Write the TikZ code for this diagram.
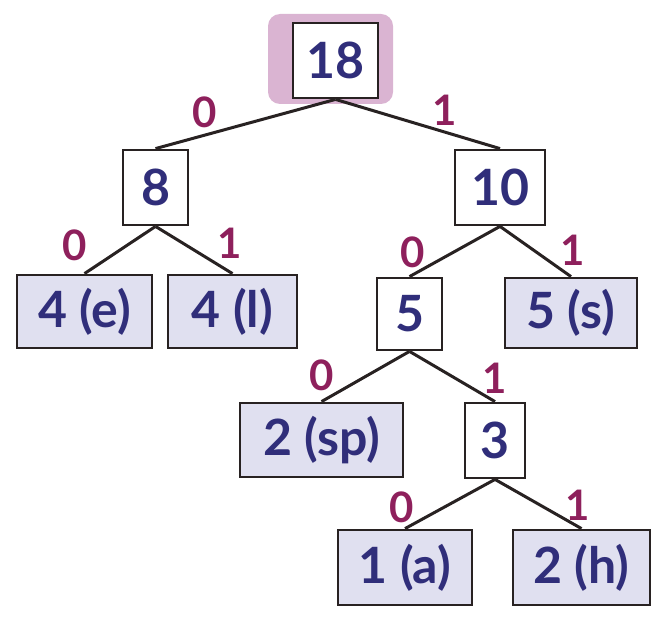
\documentclass[tikz,border=0pt]{standalone}
\usepackage{fontspec}
\setmainfont{Lato}
\usepackage{tikz}
\definecolor{ink}{RGB}{48,46,122}
\definecolor{bitcol}{RGB}{142,32,92}
\definecolor{leaffill}{RGB}{224,224,240}
\definecolor{rootglow}{RGB}{218,180,210}
\definecolor{branchcol}{RGB}{40,34,34}
\newcommand{\bitlabel}[4]{\node[bit] (#1) at (#3,#4) {#2};}
\tikzset{
  inner/.style={draw=branchcol, line width=1.4pt, fill=white, text=ink, font=\fontsize{25}{30}\selectfont\bfseries, inner sep=0pt},
  leaf/.style={inner, fill=leaffill},
  bit/.style={text=bitcol, font=\fontsize{21}{25}\selectfont\bfseries, inner sep=0pt},
  branch/.style={draw=branchcol, line width=1.5pt}
}

\begin{document}
\begin{tikzpicture}[x=0.5pt,y=-0.5pt]
\useasboundingbox (0,0) rectangle (672,620);
\fill[rootglow, rounded corners=6pt] (268,14) rectangle (393,104);
% inner nodes
\node[inner, minimum width=42.5pt, minimum height=37.5pt] (n18) at (335.5,60.5) {18};
\node[inner, minimum width=32.5pt, minimum height=37.5pt] (n8) at (155.5,187.5) {8};
\node[inner, minimum width=45pt, minimum height=37.5pt] (n10) at (500,187.5) {10};
\node[inner, minimum width=32.5pt, minimum height=36pt] (n5) at (409.5,314) {5};
\node[inner, minimum width=30pt, minimum height=37.5pt] (n3) at (495,440.5) {3};
% leaves
\node[leaf, minimum width=67.5pt, minimum height=36.5pt] (e) at (84.5,311.5) {4 (e)};
\node[leaf, minimum width=64.5pt, minimum height=36.5pt] (l) at (232.5,311.5) {4 (l)};
\node[leaf, minimum width=66pt, minimum height=35pt] (s) at (571,313) {5 (s)};
\node[leaf, minimum width=81.5pt, minimum height=37pt] (sp) at (321.5,440) {2 (sp)};
\node[leaf, minimum width=67pt, minimum height=37.5pt] (a) at (405,567.5) {1 (a)};
\node[leaf, minimum width=68.5pt, minimum height=37.5pt] (h) at (581.5,567.5) {2 (h)};
% branches
\draw[branch] (n18.south) -- (n8.north);
\draw[branch] (n18.south) -- (n10.north);
\draw[branch] (n8.south) -- (e.north);
\draw[branch] (n8.south) -- (l.north);
\draw[branch] (n10.south) -- (n5.north);
\draw[branch] (n10.south) -- (s.north);
\draw[branch] (n5.south) -- (sp.north);
\draw[branch] (n5.south) -- (n3.north);
\draw[branch] (n3.south) -- (a.north);
\draw[branch] (n3.south) -- (h.north);
% bits
\bitlabel{b1}{0}{205}{112}\bitlabel{b2}{1}{445}{110}
\bitlabel{b3}{0}{75}{245}\bitlabel{b4}{1}{230}{243}
\bitlabel{b5}{0}{413}{252}\bitlabel{b6}{1}{573}{250}
\bitlabel{b7}{0}{322}{375}\bitlabel{b8}{1}{495}{378}
\bitlabel{b9}{0}{402}{507}\bitlabel{b10}{1}{578}{505}
\end{tikzpicture}
\end{document}
